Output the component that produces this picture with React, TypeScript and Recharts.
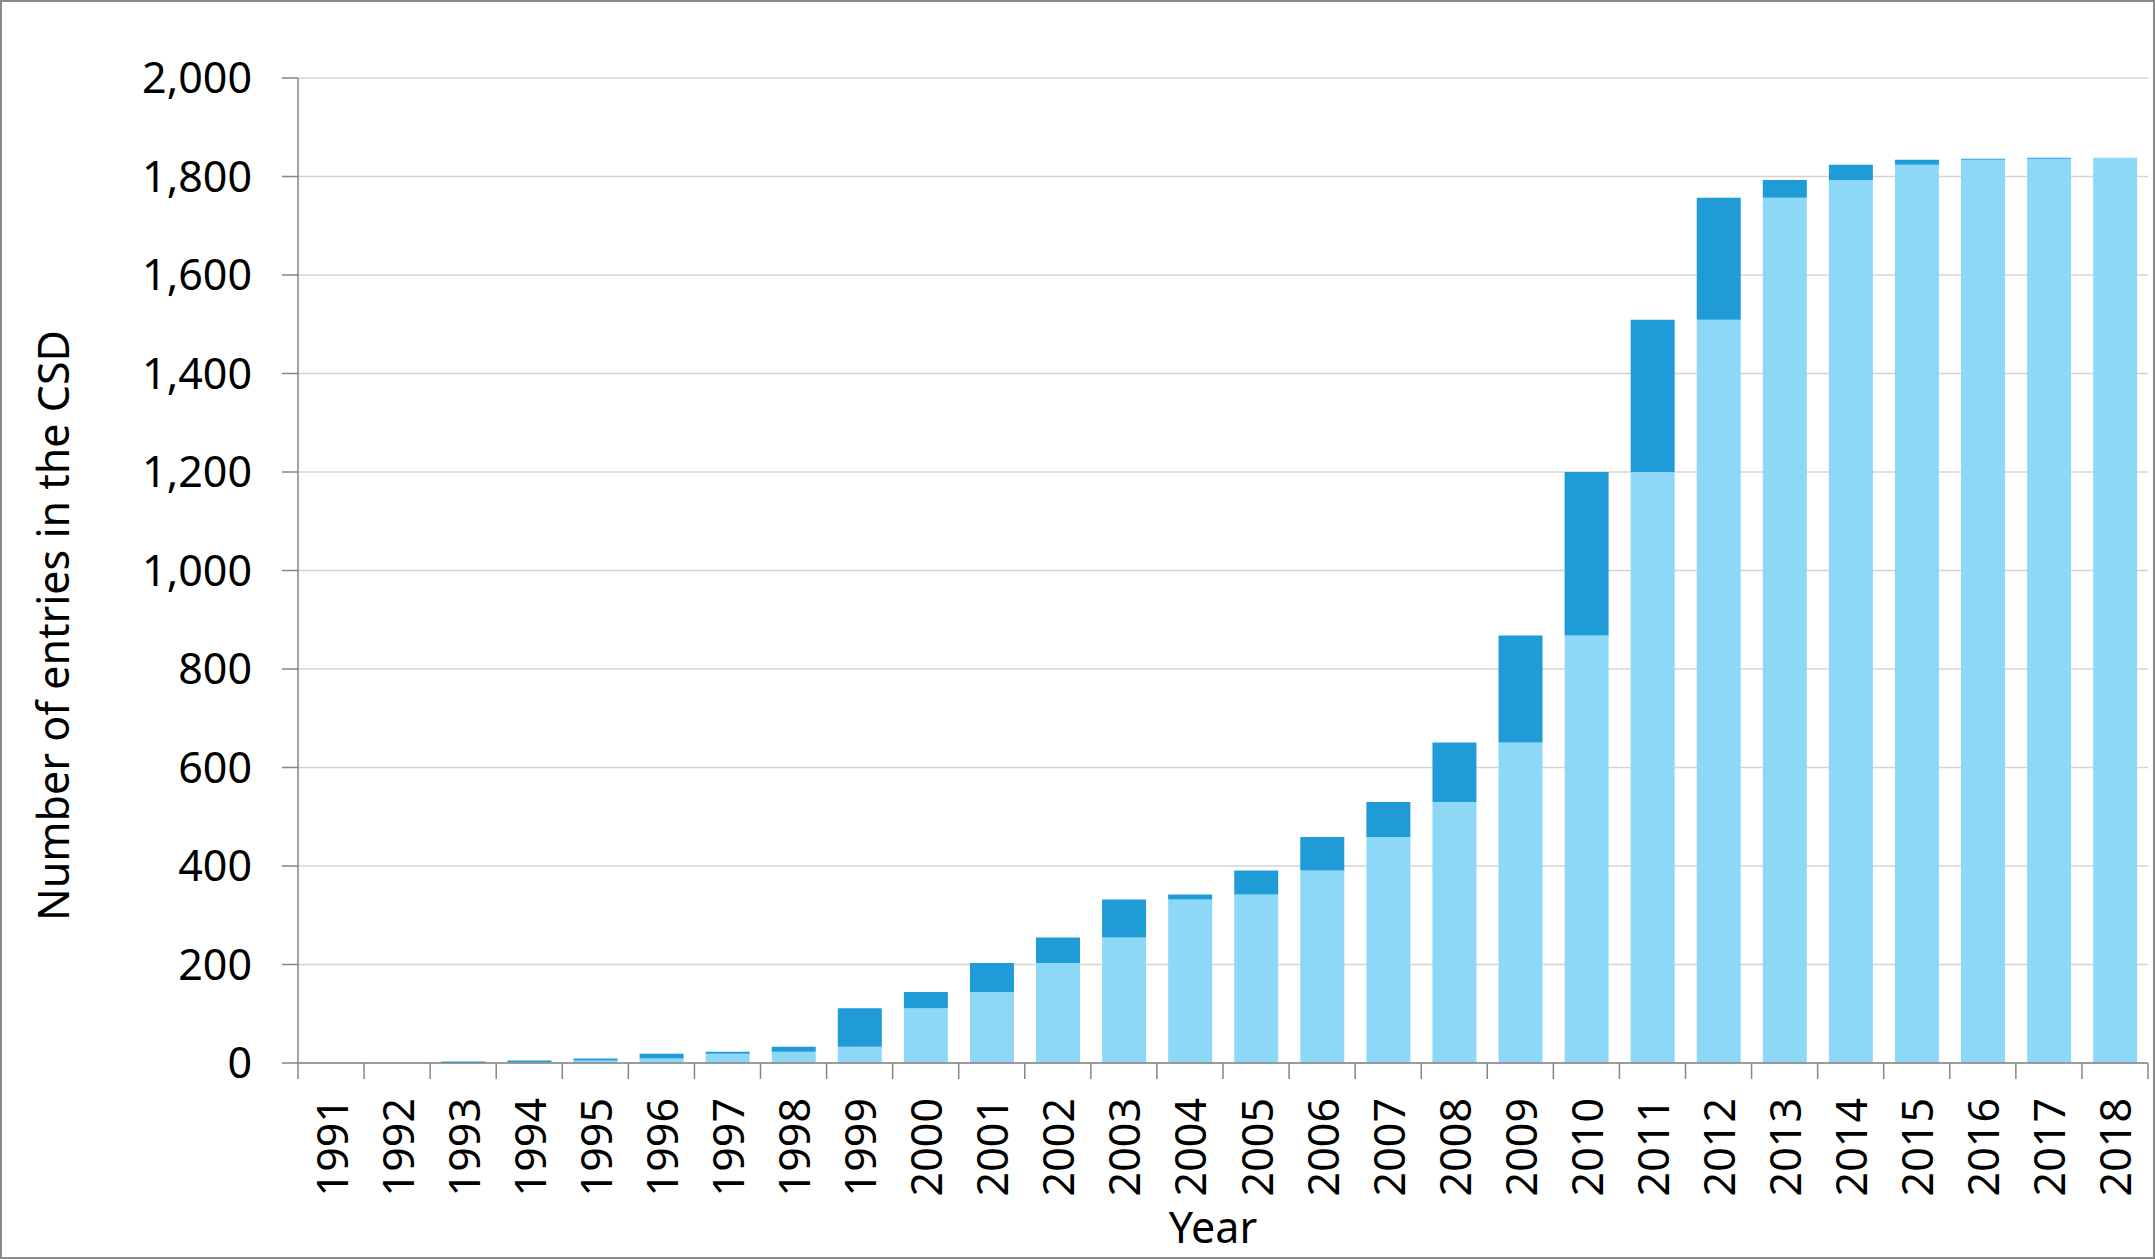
import React from 'react';
import { BarChart, Bar, XAxis, YAxis, CartesianGrid } from 'recharts';

const years = ['1991','1992','1993','1994','1995','1996','1997','1998','1999','2000','2001','2002','2003','2004','2005','2006','2007','2008','2009','2010','2011','2012','2013','2014','2015','2016','2017','2018'];
const previousEntries = [0,0,0,2,5,9,19,23,33,111,144,203,255,332,342,391,459,530,651,868,1200,1509,1757,1793,1824,1834,1836,1838];
const newEntries = [0,0,3,3,4,10,4,10,78,33,59,52,77,10,49,68,71,121,217,332,309,248,36,31,10,2,2,0];
const yTicks = [0,200,400,600,800,1000,1200,1400,1600,1800,2000];

const data = years.map((year, i) => ({ year, previous: previousEntries[i], added: newEntries[i] }));

const FONT = '"Noto Sans", "Open Sans", sans-serif';
const AXIS = '#868686';
const TICK = 16;
const TICK_GAP = 19;

const XTick = (props: any) => {
  const { x, y, payload, index, visibleTicksCount, width } = props;
  const half = payload && typeof payload.offset === 'number' && payload.offset > 0
    ? payload.offset
    : width / visibleTicksCount / 2;
  const axisY = y - TICK - TICK_GAP;
  const last = index === visibleTicksCount - 1;
  return (
    <g>
      <line x1={x - half} x2={x - half} y1={axisY} y2={axisY + TICK} stroke={AXIS} strokeWidth={1.5} />
      {last && <line x1={x + half} x2={x + half} y1={axisY} y2={axisY + TICK} stroke={AXIS} strokeWidth={1.5} />}
      <text x={x} y={y} transform={`rotate(-90, ${x}, ${y})`} textAnchor="end" dominantBaseline="central"
        fontSize={43} fontFamily={FONT} fill="#000">{payload.value}</text>
    </g>
  );
};

export default function App() {
  return (
    <div style={{ position: 'relative', width: 2155, height: 1259, background: '#fff' }}>
      <style>{'body{margin:0;}'}</style>
      <BarChart width={2155} height={1259} data={data} barCategoryGap="17%"
        margin={{ top: 78, right: 7, bottom: 46, left: 0 }}>
        <CartesianGrid vertical={false} stroke="#d4d4d4" strokeWidth={1.5} />
        <XAxis dataKey="year" interval={0} height={150} tickLine={false} tickSize={TICK} tickMargin={TICK_GAP}
          axisLine={{ stroke: AXIS, strokeWidth: 1.5 }} tick={<XTick />}
          label={{ content: (p: any) => {
            const vb = p.viewBox || { x: 298, y: 1062, width: 1850 };
            return <text x={vb.x + vb.width / 2 - 10} y={vb.y + 180} textAnchor="middle" fontSize={43} fontFamily={FONT} fill="#000">Year</text>;
          } }} />
        <YAxis type="number" domain={[0, 2000]} ticks={yTicks} interval={0} width={298} tickSize={TICK} tickMargin={30}
          tickFormatter={(v: number) => v.toLocaleString('en-US')}
          axisLine={{ stroke: AXIS, strokeWidth: 1.5 }} tickLine={{ stroke: AXIS, strokeWidth: 1.5 }}
          tick={{ fontSize: 43, fontFamily: FONT, fill: '#000' }}
          label={{ content: (p: any) => {
            const vb = p.viewBox || { x: 0, y: 78, height: 984 };
            const cx = vb.x + 69;
            const cy = vb.y + vb.height / 2 + 55;
            return <text x={cx} y={cy} transform={`rotate(-90, ${cx}, ${cy})`} textAnchor="middle" fontSize={43} fontFamily={FONT} fill="#000">Number of entries in the CSD</text>;
          } }} />
        <Bar dataKey="previous" stackId="a" fill="#8DD8F7" isAnimationActive={false} />
        <Bar dataKey="added" stackId="a" fill="#1F9BD7" isAnimationActive={false} />
      </BarChart>
      <div style={{ position: 'absolute', inset: 0, border: '2px solid #8a8a8a', boxSizing: 'border-box', pointerEvents: 'none' }} />
    </div>
  );
}
